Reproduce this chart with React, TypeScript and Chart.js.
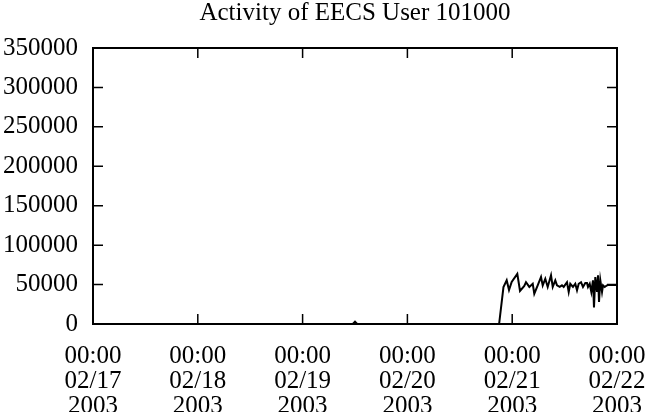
import React, { useEffect, useRef } from "react";
import { Chart, registerables } from "chart.js";

Chart.register(...registerables);

// Time in hours since 02/17/2003 00:00
const hours = [
  0, 59.5, 60, 60.5, 93.0,
  94.0, 94.74, 95.27, 95.88, 97.17, 97.79, 98.77, 99.16, 99.92, 100.7,
  101.06, 101.84, 102.6, 102.99, 103.58, 104.13, 104.89, 105.28, 105.87,
  106.26, 106.88, 107.4, 107.79, 108.55, 108.94, 109.3, 109.92, 110.45,
  110.84, 111.23, 111.76, 112.21, 112.74, 113.13, 113.36, 113.75, 114.12,
  114.5, 114.73, 115.03, 115.42, 115.65, 115.88, 116.18, 116.57, 116.8,
  117.19, 117.56, 117.9, 120,
];
const activity = [
  0, 0, 3000, 0, 0,
  46900, 55400, 43100, 53300, 63500, 41900, 48200, 53000, 47000, 51000,
  38400, 49000, 59600, 49000, 57400, 47000, 61700, 47000, 55400,
  49000, 47000, 49000, 47000, 53000, 40600, 51000, 47000, 51000,
  42700, 51000, 53000, 47000, 52000, 52000, 47000, 51000, 40600,
  55400, 21000, 59600, 40600, 61700, 27900, 55400, 40600, 49000,
  47000, 48500, 49500, 49500,
];

const xDates = ["02/17", "02/18", "02/19", "02/20", "02/21", "02/22"];
const xTime = "00:00";
const xYear = "2003";
const yTicks = [0, 50000, 100000, 150000, 200000, 250000, 300000, 350000];
const titleText = "Activity of EECS User 101000";

const FONT = "'Liberation Serif', 'Times New Roman', serif";

const framePlugin = {
  id: "gnuframe",
  afterDatasetsDraw(chart: any) {
    const { ctx, chartArea, scales } = chart;
    const { left, right, top, bottom } = chartArea;
    const xs = scales.x;
    const ys = scales.y;
    ctx.save();
    ctx.strokeStyle = "#000";
    ctx.lineWidth = 1.5;
    ctx.beginPath();
    xs.ticks.forEach((t: any) => {
      const px = xs.getPixelForValue(t.value);
      ctx.moveTo(px, bottom);
      ctx.lineTo(px, bottom - 10);
      ctx.moveTo(px, top);
      ctx.lineTo(px, top + 10);
    });
    ys.ticks.forEach((t: any) => {
      const py = ys.getPixelForValue(t.value);
      ctx.moveTo(left, py);
      ctx.lineTo(left + 10, py);
      ctx.moveTo(right, py);
      ctx.lineTo(right - 10, py);
    });
    ctx.stroke();
    ctx.lineWidth = 2;
    ctx.strokeRect(left, top, right - left, bottom - top);
    ctx.restore();
  },
};

export default function App() {
  const ref = useRef<HTMLCanvasElement | null>(null);

  useEffect(() => {
    if (!ref.current) return;
    const chart = new Chart(ref.current, {
      type: "line",
      data: {
        datasets: [
          {
            data: hours.map((h, i) => ({ x: h, y: activity[i] })),
            borderColor: "#000",
            borderWidth: 2,
            pointRadius: 0,
            tension: 0,
            fill: false,
          },
        ],
      },
      options: {
        responsive: false,
        animation: false,
        devicePixelRatio: 1,
        layout: { padding: { left: 0, right: 30, top: 0, bottom: 0 } },
        plugins: {
          legend: { display: false },
          tooltip: { enabled: false },
          title: {
            display: true,
            text: titleText,
            fullSize: false,
            color: "#000",
            font: { family: FONT, size: 25, weight: "normal", lineHeight: 1.04 },
            padding: { top: 0, bottom: 22 },
          },
        },
        scales: {
          x: {
            type: "linear",
            min: 0,
            max: 120,
            grid: { display: false, drawTicks: false },
            border: { display: false },
            ticks: {
              stepSize: 24,
              color: "#000",
              padding: 20,
              maxRotation: 0,
              autoSkip: false,
              font: { family: FONT, size: 25, lineHeight: 1.0 },
              callback: (v: any) => {
                const idx = Math.round(Number(v) / 24);
                return [xTime, xDates[idx] ?? "", xYear];
              },
            },
            afterFit: (s: any) => {
              s.height = 88;
              s.paddingLeft = 0;
              s.paddingRight = 0;
            },
          },
          y: {
            type: "linear",
            min: 0,
            max: 350000,
            grid: { display: false, drawTicks: false },
            border: { display: false },
            afterBuildTicks: (s: any) => {
              s.ticks = yTicks.map((v) => ({ value: v }));
            },
            ticks: {
              color: "#000",
              padding: 15,
              font: { family: FONT, size: 25, lineHeight: 1.0 },
              callback: (v: any) => String(v),
            },
            afterFit: (s: any) => {
              s.width = 93;
              s.paddingTop = 0;
              s.paddingBottom = 0;
            },
          },
        },
      },
      plugins: [framePlugin],
    });
    return () => chart.destroy();
  }, []);

  return (
    <div style={{ position: "absolute", left: 0, top: 0, width: 647, height: 412, background: "#fff" }}>
      <canvas ref={ref} width={647} height={412} style={{ display: "block" }} />
    </div>
  );
}
